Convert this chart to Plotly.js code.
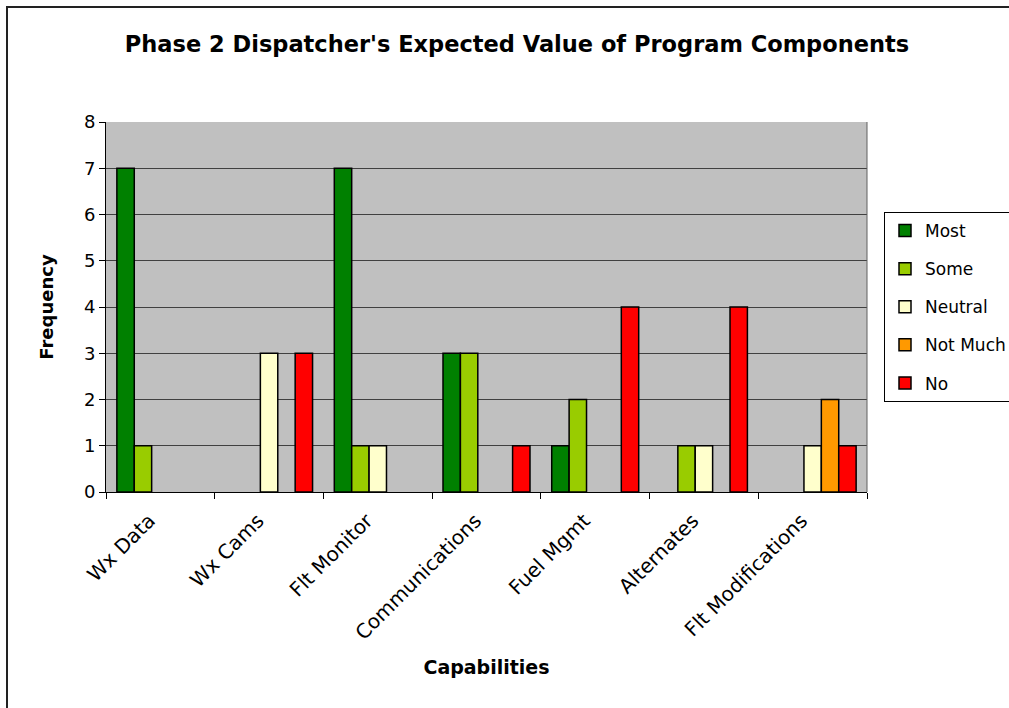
<!DOCTYPE html>
<html>
<head>
<meta charset="utf-8">
<script src="https://cdn.plot.ly/plotly-3.0.1.min.js"></script>
<style>
  html, body { margin: 0; padding: 0; background: #fff; overflow: hidden; }
  #wrap { position: relative; width: 1009px; height: 708px; overflow: hidden; }
  #chart { position: absolute; left: 0; top: 0; width: 1009px; height: 708px; }
  #frame { position: absolute; left: 6px; top: 6px; width: 1100px; height: 800px;
           border-left: 2px solid #222; border-top: 2px solid #222; pointer-events: none; }
</style>
</head>
<body>
<div id="wrap">
  <div id="chart"></div>
  <div id="frame"></div>
</div>
<script>
const categories = ["Wx Data", "Wx Cams", "Flt Monitor", "Communications", "Fuel Mgmt", "Alternates", "Flt Modifications"];
const most     = [7, 0, 7, 3, 1, 0, 0];
const some     = [1, 0, 1, 3, 2, 1, 0];
const neutral  = [0, 3, 1, 0, 0, 1, 1];
const notMuch  = [0, 0, 0, 0, 0, 0, 2];
const no       = [0, 3, 0, 1, 4, 4, 1];
const seriesNames = ["Most", "Some", "Neutral", "Not Much", "No"];
const yTicks = [0, 1, 2, 3, 4, 5, 6, 7, 8];

const colors = ["#008000", "#99CC00", "#FFFFCC", "#FF9900", "#FF0000"];
const values = [most, some, neutral, notMuch, no];

const font = "DejaVu Sans, Arial, sans-serif";

// zero-height bars are left empty so that no outline is drawn on the baseline
const traces = values.map((v, i) => ({
  type: "bar",
  name: seriesNames[i],
  x: categories,
  y: v.map(d => (d === 0 ? null : d)),
  legendgroup: "g" + i,
  marker: { color: colors[i], line: { color: "#000", width: 1.5 } },
  hoverinfo: "x+y+name"
}));

const L = 106, R = 867, T = 122, B = 492;
const W = 1009, H = 708;

const layout = {
  width: W, height: H,
  margin: { l: L, r: W - R, t: T, b: H - B, pad: 0 },
  paper_bgcolor: "#fff",
  plot_bgcolor: "#C0C0C0",
  font: { family: font, color: "#000", size: 18 },
  barmode: "group",
  bargap: 0.2,
  bargroupgap: 0,
  title: {
    text: "<b>Phase 2 Dispatcher's Expected Value of Program Components</b>",
    font: { family: font, size: 22.5, color: "#000" },
    xref: "container", x: 517 / W, xanchor: "center",
    yref: "container", y: 1 - 44 / H, yanchor: "middle"
  },
  xaxis: {
    type: "category",
    tickangle: -45,
    tickson: "boundaries",
    ticks: "outside", ticklen: 6, tickcolor: "#000", tickwidth: 1,
    ticklabelstandoff: 8,
    ticklabelshift: -11,
    showline: true, linecolor: "#000", linewidth: 1,
    showgrid: false,
    tickfont: { family: font, size: 20, color: "#000" },
    title: { text: "<b>Capabilities</b>", font: { family: font, size: 19, color: "#000" }, standoff: 17 },
    automargin: false
  },
  yaxis: {
    range: [0, 8],
    tickvals: yTicks,
    ticktext: yTicks.map(String),
    ticks: "outside", ticklen: 6, tickcolor: "#000", tickwidth: 1,
    showline: true, linecolor: "#000", linewidth: 1,
    showgrid: true, gridcolor: "#404040", gridwidth: 1,
    zeroline: false,
    tickfont: { family: font, size: 18, color: "#000" },
    title: { text: "<b>Frequency</b>", font: { family: font, size: 18, color: "#000" }, standoff: 25 },
    automargin: false
  },
  legend: {
    xref: "container", x: 884 / W, xanchor: "left",
    yref: "container", y: 1 - 212 / H, yanchor: "top",
    bgcolor: "#fff", bordercolor: "#000", borderwidth: 1,
    font: { family: font, size: 17, color: "#000" },
    tracegroupgap: 13,
    traceorder: "grouped",
    itemclick: false, itemdoubleclick: false
  },
  shapes: [
    { type: "line", xref: "paper", yref: "paper", x0: 1, x1: 1, y0: 0, y1: 1,
      line: { color: "#606060", width: 1 } }
  ],
  showlegend: true
};

Plotly.newPlot("chart", traces, layout, { displayModeBar: false, staticPlot: true });
</script>
</body>
</html>
